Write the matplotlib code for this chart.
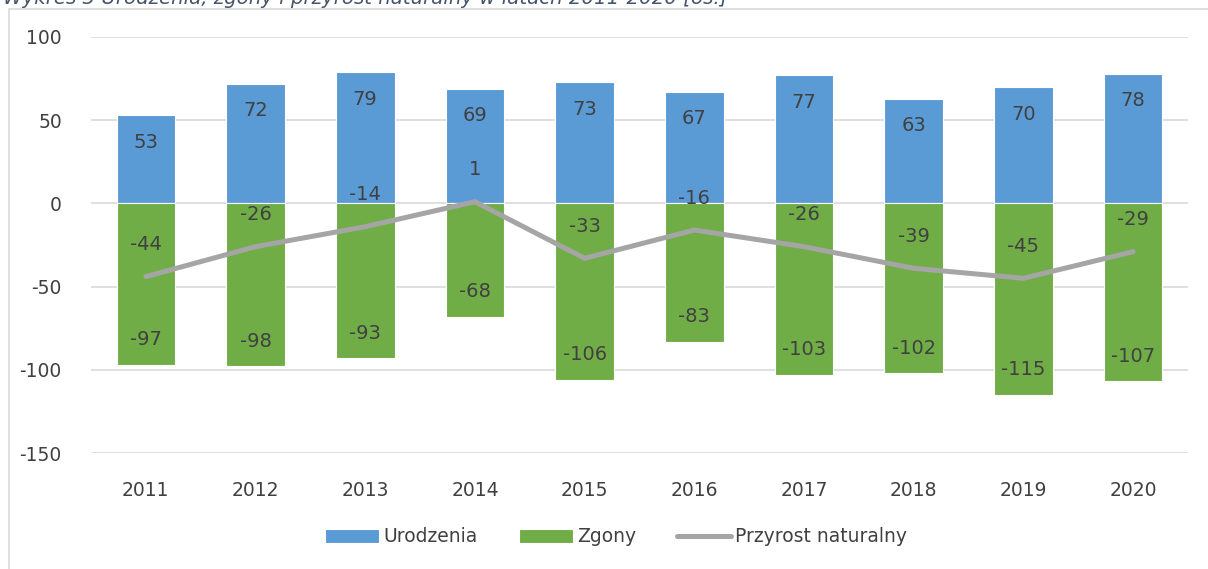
import matplotlib.pyplot as plt
from matplotlib.patches import Rectangle
import numpy as np

years = ['2011', '2012', '2013', '2014', '2015', '2016', '2017', '2018', '2019', '2020']
urodzenia = [53, 72, 79, 69, 73, 67, 77, 63, 70, 78]
zgony = [-97, -98, -93, -68, -106, -83, -103, -102, -115, -107]
przyrost = [-44, -26, -14, 1, -33, -16, -26, -39, -45, -29]

blue = '#5B9BD5'
green = '#70AD47'
gray = '#A5A5A5'
txt = '#404040'

plt.rcParams['font.family'] = ['DejaVu Sans']
plt.rcParams['axes.unicode_minus'] = False

fig = plt.figure(figsize=(12.08, 5.69), dpi=100)
ax = fig.add_axes([91/1208, 1-453/569, (1188-91)/1208, (453-37)/569])

x = np.arange(len(years))
w = 0.535
b1 = ax.bar(x, urodzenia, w, color=blue, edgecolor='white', linewidth=0.8, label='Urodzenia', zorder=2)
b2 = ax.bar(x, zgony, w, color=green, edgecolor='white', linewidth=0.8, label='Zgony', zorder=2)
l1, = ax.plot(x, przyrost, color=gray, lw=3.6, solid_capstyle='round', label='Przyrost naturalny', zorder=3)

for i in range(len(years)):
    ax.annotate(str(urodzenia[i]), (x[i], urodzenia[i]), xytext=(0, -19.5), textcoords='offset points',
                ha='center', va='center', fontsize=14, color=txt, zorder=4)
    ax.annotate(str(zgony[i]), (x[i], zgony[i]), xytext=(0, 18), textcoords='offset points',
                ha='center', va='center', fontsize=14, color=txt, zorder=4)
    ax.annotate(str(przyrost[i]), (x[i], przyrost[i]), xytext=(0, 23), textcoords='offset points',
                ha='center', va='center', fontsize=14, color=txt, zorder=4)

ax.set_xlim(-0.5, len(years)-0.5)
ax.set_ylim(-150, 100)
ax.set_yticks([-150, -100, -50, 0, 50, 100])
ax.set_xticks(x)
ax.set_xticklabels(years)
ax.yaxis.grid(True, color='#D9D9D9', lw=1.2, zorder=0)
ax.set_axisbelow(True)
for s in ax.spines.values():
    s.set_visible(False)
ax.tick_params(axis='both', length=0, labelsize=13.5, colors=txt)
ax.tick_params(axis='y', pad=21)
ax.tick_params(axis='x', pad=20)

fig.legend([b1, b2, l1], ['Urodzenia', 'Zgony', 'Przyrost naturalny'],
           loc='center', bbox_to_anchor=(0.51, 1-537/569), ncol=3, frameon=False,
           fontsize=13.5, labelcolor=txt, handlelength=2.9, handleheight=0.85,
           handletextpad=0.2, columnspacing=2.2)

# ramka wykresu (ucięta przez krawędź obrazka)
fig.patches.append(Rectangle((9/1208, -0.05), 1.1, 1-9/569+0.05, transform=fig.transFigure,
                             fill=False, edgecolor='#D9D9D9', lw=1.2))

fig.text(3/1208, 1-4/569, 'Wykres 3 Urodzenia, zgony i przyrost naturalny w latach 2011-2020 [os.]',
         ha='left', va='baseline', fontsize=14.2, style='italic', color='#44546A')

fig.savefig('out.png', dpi=100)
